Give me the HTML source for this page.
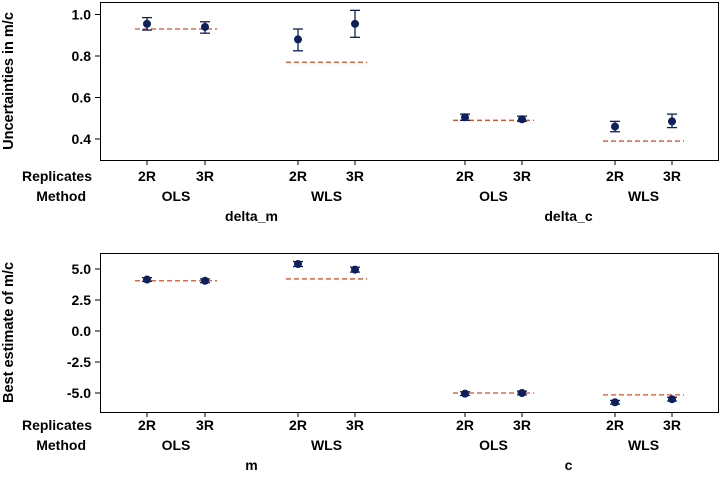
<!DOCTYPE html>
<html><head><meta charset="utf-8"><style>
body{margin:0;background:#fff}
svg{font-family:"Liberation Sans",sans-serif;font-weight:bold}
</style></head><body>
<svg id="c" width="720" height="475"></svg>
<script>
const xs=[147,205,298,355,465,522,615,672];
const reps=["2R","3R","2R","3R","2R","3R","2R","3R"];
const methods=["OLS","WLS","OLS","WLS"];
const groupsTop=["delta_m","delta_c"];
const groupsBot=["m","c"];
const topMean=[0.955,0.94,0.88,0.955,0.505,0.495,0.46,0.485];
const topLo=[0.925,0.91,0.825,0.89,0.49,0.485,0.435,0.455];
const topHi=[0.985,0.965,0.93,1.02,0.52,0.51,0.485,0.52];
const topRef=[0.93,0.77,0.49,0.39];
const topTicks=[0.4,0.6,0.8,1.0];
const topTickLabels=["0.4","0.6","0.8","1.0"];
const botMean=[4.15,4.05,5.4,4.95,-5.05,-5.0,-5.75,-5.5];
const botLo=[4.0,3.9,5.2,4.75,-5.2,-5.15,-5.9,-5.65];
const botHi=[4.3,4.2,5.6,5.15,-4.9,-4.85,-5.6,-5.35];
const botRef=[4.05,4.2,-5.0,-5.15];
const botTicks=[-5,-2.5,0,2.5,5];
const botTickLabels=["-5.0","-2.5","0.0","2.5","5.0"];
const svg=document.getElementById('c');
const NS="http://www.w3.org/2000/svg";
function mk(t,a,p){const e=document.createElementNS(NS,t);for(const k in a)e.setAttribute(k,a[k]);(p||svg).appendChild(e);return e;}
function txt(x,y,s,anchor,size,p){const e=mk('text',{x:x,y:y,'text-anchor':anchor,'font-size':size},p);e.textContent=s;return e;}
function panel(name,y0,y1,yScale,mean,lo,hi,ref,ticks,tl,groups,ytitle,labY){
 const g=mk('g',{});
 
 
 const box=mk('rect',{x:100.5,y:y0+0.5,width:618,height:y1-y0,fill:'none',stroke:'#000','stroke-width':1},g);
 
 
 ticks.forEach((t,i)=>{const y=yScale(t);
  mk('line',{x1:95,x2:100,y1:y,y2:y,stroke:'#000'},g);
  const l=txt(91,y+5,tl[i],'end',14,g);
  
  });
 const yt=txt(0,0,ytitle,'middle',14.5,g);
 yt.setAttribute('transform','translate(13,'+((y0+y1)/2)+') rotate(-90)');
 
 
 for(let k=0;k<4;k++){const xa=xs[2*k]-12,xb=xs[2*k+1]+12,y=yScale(ref[k]);
  const r=mk('line',{x1:xa,x2:xb,y1:y,y2:y,stroke:'#d0542a','stroke-width':1.3,'stroke-dasharray':'5,3'},g);
  
  }
 xs.forEach((x,i)=>{
  mk('line',{x1:x,x2:x,y1:y1,y2:y1+5,stroke:'#000'},g);
  const e=mk('g',{stroke:'#0d1f5c','stroke-width':1.3},g);
  
  
  const a=yScale(hi[i]),b=yScale(lo[i]);
  mk('line',{x1:x,x2:x,y1:a,y2:b},e);
  mk('line',{x1:x-5,x2:x+5,y1:a,y2:a},e);
  mk('line',{x1:x-5,x2:x+5,y1:b,y2:b},e);
  const c=mk('circle',{cx:x,cy:yScale(mean[i]),r:4,fill:'#0d1f5c'},g);
  
  
  const rl=txt(x,labY,reps[i],'middle',14,g);
  
  });
 methods.forEach((m,k)=>{const ml=txt((xs[2*k]+xs[2*k+1])/2,labY+20,m,'middle',14,g);
  
  });
 groups.forEach((m,k)=>{const gl=txt((xs[4*k+1]+xs[4*k+2])/2,labY+40,m,'middle',14,g);
  
  });
 const r1=txt(92,labY,'Replicates','end',14,g);
 
 
 const r2=txt(86,labY+20,'Method','end',14,g);
 
 
}
panel('uncertainty-panel',2,160,v=>14.5+(1.0-v)*207.5,topMean,topLo,topHi,topRef,topTicks,topTickLabels,groupsTop,'Uncertainties in m/c',181);
panel('estimate-panel',253,412,v=>331-v*12.4,botMean,botLo,botHi,botRef,botTicks,botTickLabels,groupsBot,'Best estimate of m/c',430);
</script>
</body></html>
